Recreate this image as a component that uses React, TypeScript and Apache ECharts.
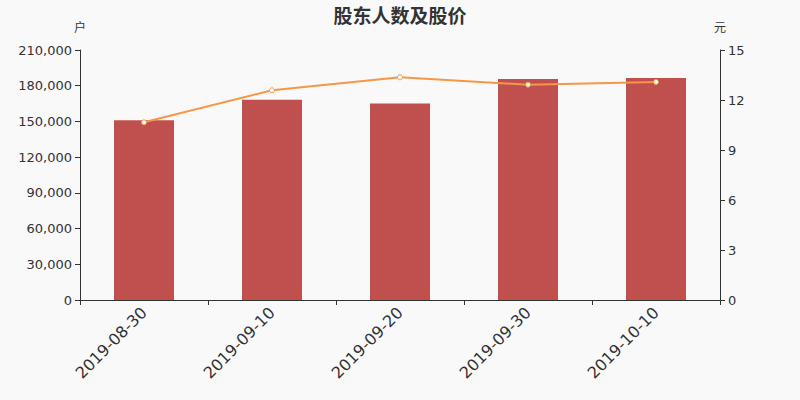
import React, { useEffect, useRef } from "react";
import * as echarts from "echarts";

const categories = ["2019-08-30", "2019-09-10", "2019-09-20", "2019-09-30", "2019-10-10"];
const holders = [151000, 168200, 165100, 185600, 186400];
const prices = [10.66, 12.58, 13.36, 12.92, 13.08];
const leftTicks = { min: 0, max: 210000, interval: 30000 };
const rightTicks = { min: 0, max: 15, interval: 3 };

export default function App() {
  const ref = useRef<HTMLDivElement>(null);
  useEffect(() => {
    document.body.style.margin = "0";
    document.body.style.background = "#f9f9f9";
    const chart = echarts.init(ref.current!, null, { renderer: "svg" });
    const font = "DejaVu Sans, Noto Sans CJK SC, sans-serif";
    chart.setOption({
      animation: false,
      backgroundColor: "#f9f9f9",
      textStyle: { fontFamily: font },
      title: {
        text: "股东人数及股价",
        left: "center",
        top: 0,
        textStyle: { fontSize: 19, fontWeight: "bold", color: "#333", fontFamily: "Noto Sans CJK SC, sans-serif" },
      },
      grid: { left: 80, right: 80, top: 50, bottom: 100 },
      xAxis: {
        type: "category",
        data: categories,
        axisLine: { lineStyle: { color: "#333" } },
        axisTick: { show: true, alignWithLabel: false, lineStyle: { color: "#333" } },
        axisLabel: { rotate: 45, fontSize: 16, color: "#333", margin: 10 },
      },
      yAxis: [
        {
          type: "value",
          name: "户",
          nameGap: 16,
          nameTextStyle: { color: "#333", fontSize: 12, align: "center", padding: [0, 0, 0, 0] },
          ...leftTicks,
          axisLine: { show: true, lineStyle: { color: "#333" } },
          axisTick: { show: true, lineStyle: { color: "#333" } },
          splitLine: { show: false },
          axisLabel: {
            color: "#333",
            fontSize: 13,
            formatter: (v: number) => v.toLocaleString("en-US"),
          },
        },
        {
          type: "value",
          name: "元",
          nameGap: 16,
          nameTextStyle: { color: "#333", fontSize: 12, align: "center" },
          ...rightTicks,
          axisLine: { show: true, lineStyle: { color: "#333" } },
          axisTick: { show: true, lineStyle: { color: "#333" } },
          splitLine: { show: false },
          axisLabel: { color: "#333", fontSize: 13 },
        },
      ],
      series: [
        {
          type: "bar",
          data: holders,
          barWidth: 60,
          itemStyle: { color: "#c0504d" },
          yAxisIndex: 0,
        },
        {
          type: "line",
          data: prices,
          yAxisIndex: 1,
          symbol: "circle",
          symbolSize: 5,
          lineStyle: { color: "#f79646", width: 2 },
          itemStyle: { color: "#fff", borderColor: "#f79646", borderWidth: 1 },
        },
      ],
    });
    return () => chart.dispose();
  }, []);
  return <div ref={ref} style={{ position: "absolute", left: 0, top: 0, width: 800, height: 400 }} />;
}
